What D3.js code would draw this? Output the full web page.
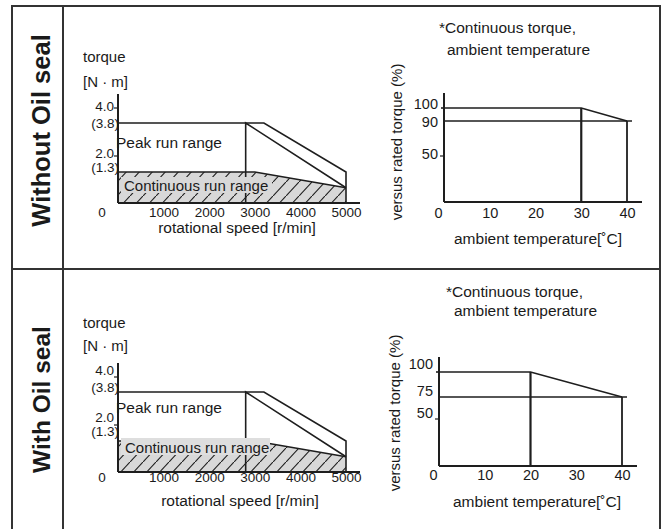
<!DOCTYPE html>
<html><head><meta charset="utf-8">
<script src="https://cdn.jsdelivr.net/npm/d3@7/dist/d3.min.js"></script>
<style>
body{margin:0;background:#fff}
svg{display:block}
text{font-family:"Liberation Sans",Arial,sans-serif;fill:#1a1a1a}
</style></head><body>
<svg id="c" width="662" height="529"></svg>
<script>
// ---------- data ----------
const rowTitles = ["Without Oil seal", "With Oil seal"];
const speedTicks = [0, 1000, 2000, 3000, 4000, 5000];
const torqueTickValues = [4.0, 3.8, 2.0, 1.3];
const torqueTickLabels = ["4.0", "(3.8)", "2.0", "(1.3)"];
const peakOuter = [[0, 3.8], [3200, 3.8], [5000, 1.3], [5000, 0]];
const peakInner = [[2800, 0], [2800, 3.8], [5000, 0.64]];
const contRange = [[0, 1.3], [3000, 1.3], [5000, 0.64], [5000, 0], [0, 0]];
const tempTicks = [0, 10, 20, 30, 40];
const pctTicksWithout = [100, 90, 50];
const pctTicksWith = [100, 75, 50];
const derateWithout = [[0, 100], [30, 100], [40, 90]];
const derateWith = [[0, 100], [20, 100], [40, 75]];

// ---------- layout ----------
const svg = d3.select("#c");
const ink = "#1e1e1e";
const defs = svg.append("defs");
defs.append("pattern").attr("id", "hatch").attr("patternUnits", "userSpaceOnUse")
  .attr("width", 13).attr("height", 14)
  .call(p => {
    p.append("rect").attr("width", 13).attr("height", 14).attr("fill", "#d8d8d8");
    p.append("line").attr("x1", 0).attr("y1", 14).attr("x2", 13).attr("y2", 0)
      .attr("stroke", ink).attr("stroke-width", 1.1);
  });

// frame
const frame = svg.append("g").attr("stroke", "#333").attr("stroke-width", 2).attr("fill", "none");
frame.append("line").attr("x1", 12).attr("y1", 6).attr("x2", 661).attr("y2", 6);
frame.append("line").attr("x1", 12).attr("y1", 5).attr("x2", 12).attr("y2", 529);
frame.append("line").attr("x1", 660).attr("y1", 5).attr("x2", 660).attr("y2", 529);
frame.append("line").attr("x1", 63).attr("y1", 6).attr("x2", 63).attr("y2", 529);
frame.append("line").attr("x1", 12).attr("y1", 269).attr("x2", 660).attr("y2", 269);

const rows = [
  { title: rowTitles[0], titleY: 130.5, titleSize: 25.5, base: 203, lblShift: 0, xLblDy: 9,
    torqueY: 57, nmY: 82, xTitle: [237, 228], peakY: 143, cont: [124, 186], contBox: [121, 177, 272, 193], boxFill: "#d8d8d8",
    rx0: 444, rbase: 202, pctTicks: pctTicksWithout, derate: derateWithout,
    pctRange: [0, -46, -81, -94], pctLblShift: [-4, 1, -2], rxLblDy: 11,
    note: [439, 28, 447, 50], yLab: [397, 142], rxTitle: [538, 239] },
  { title: rowTitles[1], titleY: 399.5, titleSize: 24.5, base: 472, lblShift: -5, xLblDy: 5,
    torqueY: 323, nmY: 346, xTitle: [240, 501], peakY: 408, cont: [125, 448], contBox: [121, 438, 270, 455], boxFill: "#dedede",
    rx0: 439, rbase: 466, pctTicks: pctTicksWith, derate: derateWith,
    pctRange: [0, -47, -69, -94], pctLblShift: [-8, -6, -6], rxLblDy: 9,
    note: [446, 292, 454, 311], yLab: [395, 413], rxTitle: [537, 502] }
];

rows.forEach(r => {
  // row title
  svg.append("text").attr("transform", `translate(50,${r.titleY}) rotate(-90)`)
    .attr("text-anchor", "middle").attr("font-size", r.titleSize).attr("font-weight", "bold")
    .text(r.title);

  // ----- torque vs speed -----
  const x = d3.scaleLinear().domain([0, 5000]).range([118, 346]);
  const y = d3.scaleLinear().domain([0, 1.3, 2.0, 3.8, 4.0])
    .range([0, -31, -47, -80, -95].map(d => r.base + d));
  const line = d3.line().x(d => x(d[0])).y(d => y(d[1]));
  const g = svg.append("g");

  g.append("path").attr("d", line(contRange) + "Z").attr("fill", "url(#hatch)").attr("stroke", "none");
  g.append("path").attr("d", line(contRange.slice(0, 3))).attr("fill", "none").attr("stroke", ink).attr("stroke-width", 1.6);
  g.append("path").attr("d", line(peakOuter)).attr("fill", "none").attr("stroke", ink).attr("stroke-width", 1.6);
  g.append("path").attr("d", line(peakInner)).attr("fill", "none").attr("stroke", ink).attr("stroke-width", 1.6);

  // continuous label with box
  g.append("rect").attr("x", r.contBox[0]).attr("y", r.contBox[1])
    .attr("width", r.contBox[2] - r.contBox[0]).attr("height", r.contBox[3] - r.contBox[1]).attr("fill", r.boxFill);
  g.append("text").attr("x", r.cont[0]).attr("y", r.cont[1]).attr("dy", "0.35em")
    .attr("font-size", 15).text("Continuous run range");
  g.append("text").attr("x", 116).attr("y", r.peakY).attr("dy", "0.35em")
    .attr("font-size", 15.5).text("Peak run range");

  // axes
  g.append("line").attr("x1", x(0)).attr("x2", x(0)).attr("y1", r.base - 109).attr("y2", r.base)
    .attr("stroke", ink).attr("stroke-width", 2);
  g.append("line").attr("x1", x(0)).attr("x2", 360).attr("y1", r.base).attr("y2", r.base)
    .attr("stroke", ink).attr("stroke-width", 2);
  [4.0, 2.0].forEach(v => g.append("line").attr("x1", x(0) - 4).attr("x2", x(0)).attr("y1", y(v)).attr("y2", y(v))
    .attr("stroke", ink).attr("stroke-width", 1.2));

  const ax = d3.axisBottom(x).tickValues(speedTicks.slice(1)).tickSize(0).tickPadding(0).tickFormat(d3.format("d"));
  const axg = g.append("g").attr("transform", `translate(0,${r.base + r.xLblDy})`).call(ax);
  axg.select(".domain").remove();
  axg.selectAll("text").attr("font-size", 13.5).attr("fill", ink).attr("font-family", null).attr("dy", "0.35em").attr("y", 0);
  g.append("text").attr("x", x(0) - 16).attr("y", r.base + r.xLblDy).attr("dy", "0.35em")
    .attr("text-anchor", "middle").attr("font-size", 13.5).text(speedTicks[0]);

  const ayShift = [-2, 0, -3, -5];
  torqueTickValues.forEach((v, i) => {
    const paren = torqueTickLabels[i].startsWith("(");
    g.append("text").attr("x", paren ? x(0) + 1 : x(0) - 4)
      .attr("y", y(v) + ayShift[i] + r.lblShift).attr("dy", "0.35em")
      .attr("text-anchor", "end").attr("font-size", 13.5).text(torqueTickLabels[i]);
  });
  g.append("text").attr("x", 83).attr("y", r.torqueY).attr("dy", "0.35em").attr("font-size", 15).text("torque");
  g.append("text").attr("x", 83).attr("y", r.nmY).attr("dy", "0.35em").attr("font-size", 15).text("[N · m]");
  g.append("text").attr("x", r.xTitle[0]).attr("y", r.xTitle[1]).attr("dy", "0.35em")
    .attr("text-anchor", "middle").attr("font-size", 15.5).text("rotational speed [r/min]");

  // ----- torque derating vs ambient temperature -----
  const tx = d3.scaleLinear().domain([0, 40]).range([r.rx0, r.rx0 + 183]);
  const ty = d3.scaleLinear().domain([0, r.pctTicks[2], r.pctTicks[1], r.pctTicks[0]].sort((a, b) => a - b))
    .range(r.pctRange.map(d => r.rbase + d));
  const tline = d3.line().x(d => tx(d[0])).y(d => ty(d[1]));
  const h = svg.append("g");
  const dr = r.derate;
  h.append("path").attr("d", tline(dr)).attr("fill", "none").attr("stroke", ink).attr("stroke-width", 1.6);
  // small stub left of the axis at the 100 level
  h.append("line").attr("x1", tx(0) - 3).attr("x2", tx(0)).attr("y1", ty(dr[0][1])).attr("y2", ty(dr[0][1]))
    .attr("stroke", ink).attr("stroke-width", 1.6);
  h.append("line").attr("x1", tx(0)).attr("x2", tx(dr[2][0]) + 5).attr("y1", ty(dr[2][1])).attr("y2", ty(dr[2][1]))
    .attr("stroke", ink).attr("stroke-width", 1.6);
  h.append("line").attr("x1", tx(dr[1][0])).attr("x2", tx(dr[1][0])).attr("y1", ty(dr[1][1])).attr("y2", r.rbase)
    .attr("stroke", ink).attr("stroke-width", 2.2);
  h.append("line").attr("x1", tx(dr[2][0])).attr("x2", tx(dr[2][0])).attr("y1", ty(dr[2][1])).attr("y2", r.rbase)
    .attr("stroke", ink).attr("stroke-width", 1.8);
  h.append("line").attr("x1", tx(0) - 4).attr("x2", tx(0)).attr("y1", ty(50)).attr("y2", ty(50))
    .attr("stroke", ink).attr("stroke-width", 1.2);
  h.append("line").attr("x1", tx(0)).attr("x2", tx(0)).attr("y1", r.rbase - 109).attr("y2", r.rbase)
    .attr("stroke", ink).attr("stroke-width", 2);
  h.append("line").attr("x1", tx(0)).attr("x2", tx(40) + 15).attr("y1", r.rbase).attr("y2", r.rbase)
    .attr("stroke", ink).attr("stroke-width", 2);

  const tax = d3.axisBottom(tx).tickValues(tempTicks).tickSize(0).tickPadding(0);
  const taxg = h.append("g").attr("transform", `translate(0,${r.rbase + r.rxLblDy})`).call(tax);
  taxg.select(".domain").remove();
  taxg.selectAll("text").attr("font-size", 14.5).attr("fill", ink).attr("font-family", null).attr("dy", "0.35em").attr("y", 0)
    .attr("x", d => d === 0 ? -6 : 0);

  r.pctTicks.forEach((v, i) => {
    h.append("text").attr("x", tx(0) - 6).attr("y", ty(v) + r.pctLblShift[i]).attr("dy", "0.35em")
      .attr("text-anchor", "end").attr("font-size", 14.5).text(v);
  });
  h.append("text").attr("x", r.note[0]).attr("y", r.note[1]).attr("dy", "0.35em").attr("font-size", 15.5).text("*Continuous torque,");
  h.append("text").attr("x", r.note[2]).attr("y", r.note[3]).attr("dy", "0.35em").attr("font-size", 15.5).text("ambient temperature");
  h.append("text").attr("transform", `translate(${r.yLab[0]},${r.yLab[1]}) rotate(-90)`).attr("dy", "0.35em")
    .attr("text-anchor", "middle").attr("font-size", 15).text("versus rated torque (%)");
  h.append("text").attr("x", r.rxTitle[0]).attr("y", r.rxTitle[1]).attr("dy", "0.35em")
    .attr("text-anchor", "middle").attr("font-size", 15.5).text("ambient temperature[˚C]");
});
</script>
</body></html>
